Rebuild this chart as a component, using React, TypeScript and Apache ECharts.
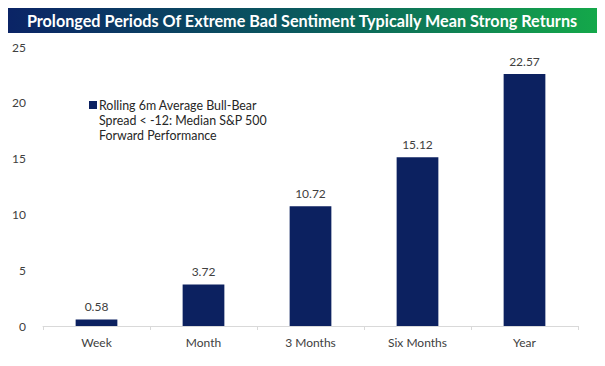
import React, { useEffect, useRef } from "react";
import * as echarts from "echarts";

const categories = ["Week", "Month", "3 Months", "Six Months", "Year"];
const values = [0.58, 3.72, 10.72, 15.12, 22.57];
const seriesName = "Rolling 6m Average Bull-Bear\nSpread < -12: Median S&P 500\nForward Performance";
const titleText = "Prolonged Periods Of Extreme Bad Sentiment Typically Mean Strong Returns";

const FONT = "Lato, 'Open Sans', sans-serif";

export default function App() {
  const ref = useRef<HTMLDivElement>(null);
  useEffect(() => {
    if (!ref.current) return;
    const chart = echarts.init(ref.current, null, { renderer: "svg" });
    chart.setOption({
      animation: false,
      backgroundColor: "#ffffff",
      textStyle: { fontFamily: FONT },
      graphic: [
        {
          type: "rect",
          shape: { x: 8, y: 8, width: 589, height: 25 },
          style: {
            fill: new echarts.graphic.LinearGradient(0, 0, 1, 0, [
              { offset: 0, color: "#0b2466" },
              { offset: 0.5, color: "#0a5a5e" },
              { offset: 1, color: "#14a84a" },
            ]),
          },
        },
        {
          type: "text",
          x: 302,
          y: 20.5,
          style: {
            text: titleText,
            fill: "#ffffff",
            font: `bold 16.2px ${FONT}`,
            align: "center",
            verticalAlign: "middle",
          },
        },
        {
          type: "rect",
          shape: { x: 89, y: 101, width: 8, height: 8 },
          style: { fill: "#0c2160" },
        },
        {
          type: "text",
          x: 99,
          y: 97.5,
          style: {
            text: seriesName,
            fill: "#262626",
            font: `12.4px ${FONT}`,
            lineHeight: 15,
            align: "left",
            verticalAlign: "top",
          },
        },
      ],
      grid: { left: 43, right: 27, top: 47, bottom: 40, containLabel: false },
      xAxis: {
        type: "category",
        data: categories,
        axisLine: { lineStyle: { color: "#d9d9d9" } },
        axisTick: { show: true, alignWithLabel: false, length: 4, lineStyle: { color: "#d9d9d9" } },
        axisLabel: { color: "#404040", fontSize: 12, margin: 10, fontFamily: FONT },
      },
      yAxis: {
        type: "value",
        min: 0,
        max: 25,
        interval: 5,
        splitLine: { show: false },
        axisLine: { show: false },
        axisTick: { show: false },
        axisLabel: { color: "#404040", fontSize: 12, margin: 17, fontFamily: FONT },
      },
      series: [
        {
          type: "bar",
          name: seriesName,
          data: values,
          barWidth: "39%",
          itemStyle: { color: "#0c2160" },
          label: {
            show: true,
            position: "top",
            distance: 7,
            color: "#404040",
            fontSize: 12,
            fontFamily: FONT,
            formatter: (p: any) => p.value.toFixed(2),
          },
        },
      ],
    });
    return () => chart.dispose();
  }, []);
  return (
    <div
      ref={ref}
      style={{ position: "absolute", left: 0, top: 0, width: 605, height: 366 }}
    />
  );
}
